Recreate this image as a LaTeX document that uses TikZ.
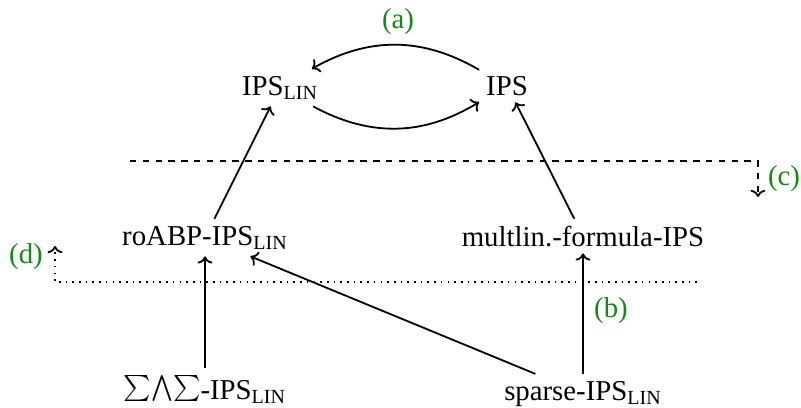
\documentclass[tikz,border=0pt]{standalone}
\usepackage{fontspec}
\usepackage{graphicx}
\setmainfont{Liberation Serif}
\usetikzlibrary{arrows.meta}
\definecolor{lblgreen}{RGB}{16,140,16}
\newcommand{\Lin}{\textsubscript{LIN}}
\newcommand{\bigsum}{\raisebox{0.12ex}{\scalebox{1.3}{$\sum$}}}
\newcommand{\bigwdg}{\raisebox{0.12ex}{\scalebox{1.3}{$\bigwedge$}}}
\tikzset{
  lbl/.style={font=\fontsize{14.4}{17}\selectfont, text=lblgreen, inner sep=0pt, anchor=base},
  cls/.style={font=\fontsize{14.4}{17}\selectfont, anchor=base},
  conn/.style={line width=0.9pt, ->},
  dashpat/.style={line width=0.9pt, dash pattern=on 3.2pt off 3.2pt},
  dotpat/.style={line width=0.9pt, dash pattern=on 0.8pt off 2.55pt},
}
\begin{document}
\begin{tikzpicture}[x=0.5pt,y=0.5pt]
\useasboundingbox (0,0) rectangle (801,-407);
% class nodes
\node[cls] (lin) at (280,-95) {IPS\Lin};
\node[cls] (ips) at (507,-95) {IPS};
\node[cls] (roabp) at (205,-245) {roABP-IPS\Lin};
\node[cls] (mult) at (583,-246) {multlin.-formula-IPS};
\node[cls] (sum) at (205,-399) {\bigsum\bigwdg\bigsum-IPS\Lin};
\node[cls] (sparse) at (583,-400) {sparse-IPS\Lin};
% labels
\node[lbl] (la) at (398,-28) {(a)};
\node[lbl] (lb) at (611,-317) {(b)};
\node[lbl] (lc) at (784,-185) {(c)};
\node[lbl] (ld) at (26,-263) {(d)};
% connectors
\draw[conn] (ips) to[bend right=30] (lin);
\draw[conn] (lin) to[bend right=30] (ips);
\draw[conn] (roabp) -- (lin);
\draw[conn] (mult) -- (ips);
\draw[conn] (sum) -- (roabp);
\draw[conn] (sparse) -- (mult);
\draw[conn] (sparse) -- (roabp);
% separators
\coordinate (cs) at (130,-161);
\coordinate (ce) at (758,-197);
\draw[dashpat,->] (cs) -| (ce);
\coordinate (ds) at (697,-282);
\coordinate (de) at (55,-246);
\draw[dotpat,->] (ds) -| (de);
\end{tikzpicture}
\end{document}
